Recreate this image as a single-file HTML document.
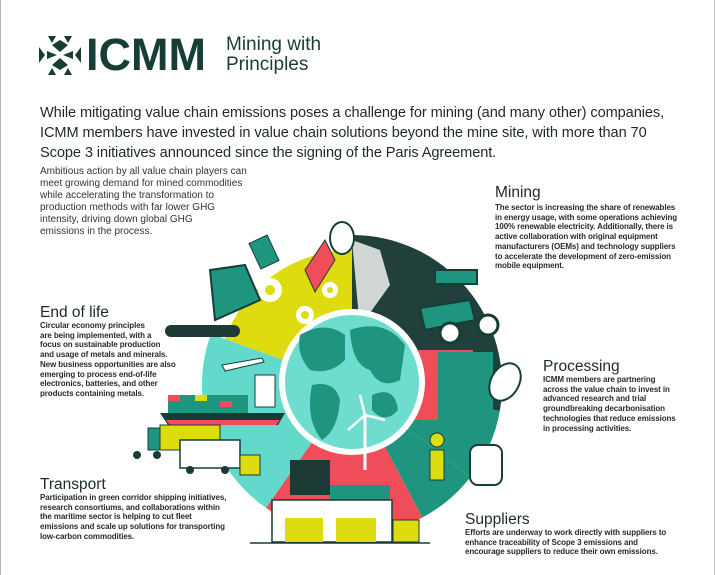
<!DOCTYPE html>
<html><head><meta charset="utf-8"><style>
body{margin:0;width:715px;height:575px;background:#fff;position:relative;overflow:hidden;font-family:"Liberation Sans",sans-serif;color:#1d2a28}
.t{position:absolute;white-space:nowrap}
h1{position:absolute;margin:0;font-weight:700;}
.hd{position:absolute;font-size:15.5px;line-height:17px;color:#1d2a28;margin:0;font-weight:400}
.b{position:absolute;font-size:8px;line-height:9.7px;font-weight:700;color:#2a2a2a;white-space:nowrap;letter-spacing:-0.1px}
</style></head><body>
<div style="position:absolute;left:0;top:0;width:1px;height:575px;background:#bbb"></div>
<div style="position:absolute;right:0;top:0;width:1px;height:575px;background:#bbb"></div>
<svg style="position:absolute;left:0;top:0" width="715" height="575">
<!-- logo -->
<g fill="#173d37">
<polygon points="48,36 56,36 52,43"/><polygon points="64,36 72,36 68,43"/>
<polygon points="48,75 56,75 52,68"/><polygon points="64,75 72,75 68,68"/>
<polygon points="39,47 45,55 39,63"/><polygon points="81,47 75,55 81,63"/>
<polygon points="52,45 60,40 68,45 60,52"/><polygon points="52,65 60,70 68,65 60,58"/>
<polygon points="47,51 57,55 47,59"/><polygon points="73,51 63,55 73,59"/>
</g>
<!-- pie -->
<path d="M352,385 L352,235 A150,150 0 0 1 499.8,411 Z" fill="#21403b"/>
<path d="M352,385 L499.8,411 A150,150 0 0 1 470.2,477.4 Z" fill="#1f9580"/>
<rect x="393" y="350" width="80" height="70" fill="#ef4d5a"/>
<rect x="438" y="352" width="55" height="68" fill="#1f9580"/>
<path d="M352,385 L470.2,477.4 A150,150 0 0 1 422.4,517.5 Z" fill="#1f9580"/>
<path d="M352,385 L422.4,517.5 A150,150 0 0 1 266,507.9 Z" fill="#ef4d5a"/>
<path d="M352,385 L266,507.9 A150,150 0 0 1 211,333.7 Z" fill="#62d9cb"/>
<path d="M352,385 L225,338.8 A135,135 0 0 1 352,250 Z" fill="#dedb0f"/>
<path d="M352,240 L380,250 L390,285 L372,310 L360,330 Z" fill="#cfd6d4"/>
<!-- gears -->
<g fill="#fff"><circle cx="270" cy="290" r="12"/><circle cx="305" cy="315" r="9"/><circle cx="330" cy="290" r="8"/></g>
<g fill="#dedb0f"><circle cx="270" cy="290" r="5"/><circle cx="305" cy="315" r="4"/><circle cx="330" cy="290" r="3"/></g>
<!-- mining icons -->
<rect x="254" y="238" width="20" height="28" fill="#1f9580" stroke="#173d37" transform="rotate(-25 264 252)"/>
<path d="M305,270 L325,240 L335,260 L315,292 Z" fill="#ef4d5a" stroke="#173d37"/>
<ellipse cx="342" cy="238" rx="12" ry="16" fill="#fff" stroke="#173d37" stroke-width="2"/>
<rect x="435" y="270" width="42" height="14" fill="#1f9580" stroke="#173d37" stroke-width="2"/>
<path d="M420,308 L470,300 L475,320 L425,330 Z" fill="#1f9580" stroke="#173d37" stroke-width="2"/>
<circle cx="450" cy="333" r="10" fill="#fff" stroke="#173d37" stroke-width="3"/><circle cx="488" cy="325" r="10" fill="#fff" stroke="#173d37" stroke-width="3"/>
<!-- processing bucket -->
<ellipse cx="505" cy="382" rx="14" ry="20" fill="#fff" stroke="#173d37" stroke-width="2" transform="rotate(30 505 382)"/>
<path d="M460,420 Q475,385 492,420 Z" fill="#1f9580"/>
<!-- robot and worker -->
<rect x="470" y="445" width="32" height="40" rx="8" fill="#fff" stroke="#173d37" stroke-width="2"/>
<rect x="430" y="450" width="14" height="30" fill="#dedb0f" stroke="#173d37"/>
<circle cx="437" cy="440" r="7" fill="#dedb0f" stroke="#173d37"/>
<!-- conveyor/recycle -->
<path d="M210,270 L245,265 L260,300 L215,320 Z" fill="#1f9580" stroke="#173d37" stroke-width="2"/>
<rect x="165" y="325" width="75" height="12" rx="6" fill="#1e3a37"/>
<!-- plane -->
<path d="M222,365 L262,358 L264,362 L225,371 Z" fill="#fff" stroke="#173d37"/>
<!-- ship -->
<rect x="168" y="395" width="80" height="18" fill="#1f9580"/>
<rect x="168" y="395" width="12" height="6" fill="#ef4d5a"/><rect x="195" y="395" width="12" height="6" fill="#dedb0f"/><rect x="220" y="401" width="12" height="6" fill="#ef4d5a"/>
<rect x="255" y="375" width="20" height="32" fill="#fff" stroke="#173d37"/>
<path d="M160,413 L285,413 L278,425 L168,425 Z" fill="#173d37"/>
<path d="M166,420 L280,420 L276,425 L170,425 Z" fill="#ef4d5a"/>
<!-- trucks -->
<rect x="148" y="428" width="12" height="22" fill="#1f9580" stroke="#173d37"/>
<rect x="160" y="425" width="60" height="25" fill="#dedb0f" stroke="#173d37"/>
<rect x="180" y="440" width="60" height="28" fill="#fff" stroke="#173d37" stroke-width="1.5"/>
<rect x="240" y="455" width="20" height="20" fill="#dedb0f" stroke="#173d37"/>
<circle cx="137" cy="455" r="4" fill="#173d37"/><circle cx="157" cy="455" r="4" fill="#173d37"/><circle cx="190" cy="470" r="4" fill="#173d37"/><circle cx="225" cy="470" r="4" fill="#173d37"/>
<!-- globe -->
<circle cx="352" cy="382" r="73" fill="#fff"/>
<circle cx="352" cy="382" r="67" fill="#6fdcd0"/>
<path d="M300,335 Q325,320 345,335 L345,360 Q330,375 310,370 Q296,355 300,335 Z" fill="#1f9580"/>
<path d="M312,385 Q335,380 340,400 Q338,430 322,440 Q305,420 312,385 Z" fill="#1f9580"/>
<path d="M350,330 Q385,318 405,345 L400,380 Q380,390 370,370 Q352,365 350,330 Z" fill="#1f9580"/>
<path d="M372,395 Q395,385 398,410 Q385,425 372,410 Z" fill="#1f9580"/>
<line x1="365" y1="415" x2="365" y2="470" stroke="#fff" stroke-width="3"/>
<path d="M365,415 L360,395 M365,415 L385,420 M365,415 L348,430" stroke="#fff" stroke-width="2.5"/>
<!-- factory -->
<rect x="290" y="460" width="40" height="35" fill="#1e3a37"/>
<rect x="330" y="485" width="60" height="25" fill="#1f9580"/>
<rect x="272" y="500" width="120" height="42" fill="#fff" stroke="#173d37" stroke-width="1.5"/>
<rect x="285" y="518" width="38" height="24" fill="#dedb0f"/><rect x="336" y="518" width="40" height="24" fill="#dedb0f"/>
<rect x="393" y="520" width="26" height="22" fill="#dedb0f" stroke="#173d37"/>
<line x1="250" y1="543" x2="430" y2="543" stroke="#173d37" stroke-width="1.5"/>
</svg>
<h1 class="t" style="left:86px;top:30px;font-size:45px;line-height:50px;color:#173d37;letter-spacing:0px">ICMM</h1>
<div class="t" style="left:226px;top:35px;font-size:19px;line-height:20px;color:#173d37">Mining with<br>Principles</div>
<div class="t" style="left:40px;top:103px;font-size:14.6px;line-height:20px;color:#1d2a28;letter-spacing:-0.1px">While mitigating value chain emissions poses a challenge for mining (and many other) companies,<br>ICMM members have invested in value chain solutions beyond the mine site, with more than 70<br>Scope 3 initiatives announced since the signing of the Paris Agreement.</div>
<div class="t" style="left:40px;top:166px;font-size:10px;line-height:12.1px;color:#333">Ambitious action by all value chain players can<br>meet growing demand for mined commodities<br>while accelerating the transformation to<br>production methods with far lower GHG<br>intensity, driving down global GHG<br>emissions in the process.</div>
<div class="hd t" style="left:495px;top:184px">Mining</div>
<div class="b" style="left:495px;top:203px">The sector is increasing the share of renewables<br>in energy usage, with some operations achieving<br>100% renewable electricity. Additionally, there is<br>active collaboration with original equipment<br>manufacturers (OEMs) and technology suppliers<br>to accelerate the development of zero-emission<br>mobile equipment.</div>
<div class="hd t" style="left:543px;top:358px">Processing</div>
<div class="b" style="left:543px;top:375px">ICMM members are partnering<br>across the value chain to invest in<br>advanced research and trial<br>groundbreaking decarbonisation<br>technologies that reduce emissions<br>in processing activities.</div>
<div class="hd t" style="left:465px;top:511px">Suppliers</div>
<div class="b" style="left:465px;top:528px">Efforts are underway to work directly with suppliers to<br>enhance traceability of Scope 3 emissions and<br>encourage suppliers to reduce their own emissions.</div>
<div class="hd t" style="left:40px;top:304px">End of life</div>
<div class="b" style="left:40px;top:321px">Circular economy principles<br>are being implemented, with a<br>focus on sustainable production<br>and usage of metals and minerals.<br>New business opportunities are also<br>emerging to process end-of-life<br>electronics, batteries, and other<br>products containing metals.</div>
<div class="hd t" style="left:40px;top:476px">Transport</div>
<div class="b" style="left:40px;top:493px">Participation in green corridor shipping initiatives,<br>research consortiums, and collaborations within<br>the maritime sector is helping to cut fleet<br>emissions and scale up solutions for transporting<br>low-carbon commodities.</div>
</body></html>
